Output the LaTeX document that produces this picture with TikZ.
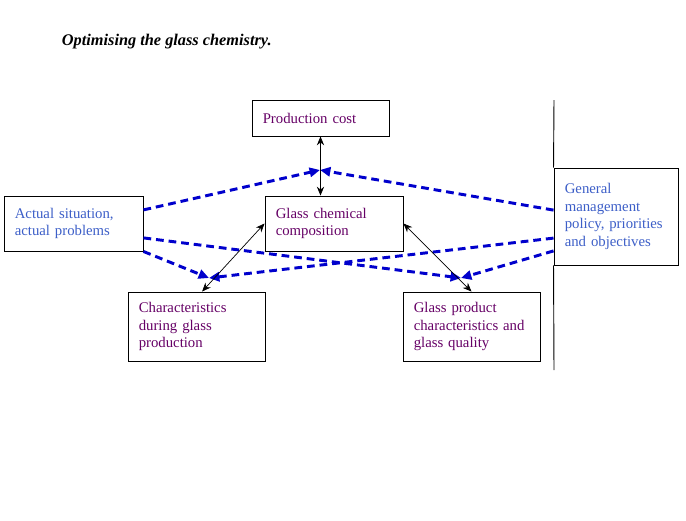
\documentclass[tikz,border=0pt]{standalone}
\usepackage{fontspec}
\setmainfont{Liberation Serif}
\usepackage{tikz}
\usetikzlibrary{arrows.meta,positioning,calc}
\definecolor{plum}{HTML}{660066}
\definecolor{steel}{HTML}{3D5FC8}
\definecolor{dashblue}{HTML}{0000CC}
\tikzset{
  box/.style={draw=black,fill=white,line width=0.65pt,align=left,anchor=center,
    font=\fontsize{10.5}{12.4}\selectfont,inner xsep=0.27cm,text width=#1},
  box/.default=2.9cm,
  inner/.style={box,text=plum},
  outer/.style={box,text=steel},
  link/.style={{Stealth[length=2.2mm,width=1.8mm]}-{Stealth[length=2.2mm,width=1.8mm]},line width=0.5pt,draw=black},
  push/.style={-{Triangle[length=2.6mm,width=2.3mm]},line width=2.1pt,draw=dashblue,dash pattern=on 5.5pt off 3.5pt},
}

\begin{document}
\begin{tikzpicture}[x=0.025cm,y=-0.025cm,
  title/.style={font=\fontsize{11.6}{14}\selectfont\bfseries\itshape,anchor=base west}]
  \useasboundingbox (0,0) rectangle (686,521);
  \node[title] (head) at (57,45) {Optimising the glass chemistry.};
  \node[inner,minimum width=3.425cm,minimum height=0.9cm,text width=2.885cm] (cost) at (320.5,118) {Production cost\\[4pt]};
  \node[inner,minimum width=3.45cm,minimum height=1.375cm,text width=2.91cm] (chem) at (334,223.5) {Glass chemical\\ composition\\[5pt]};
  \node[outer,minimum width=3.475cm,minimum height=1.375cm,text width=2.935cm] (actual) at (73.5,223.5) {Actual situation,\\ actual problems\\[5pt]};
  \node[outer,minimum width=3.1cm,minimum height=2.425cm,text width=2.56cm] (policy) at (616,216.5) {General\\ management\\ policy, priorities\\ and objectives\\[11pt]};
  \node[inner,minimum width=3.425cm,minimum height=1.725cm,text width=2.885cm] (during) at (196.5,326.5) {Characteristics\\ during glass\\ production};
  \node[inner,minimum width=3.425cm,minimum height=1.725cm,text width=2.885cm] (quality) at (471.5,326.5) {Glass product\\ characteristics and\\ glass quality};
  \coordinate (rtop) at (554,100);
  \coordinate (rbot) at (554,370);
  \draw[line width=0.65pt] (rtop) -- (policy.north west);
  \draw[line width=0.65pt] (policy.south west) -- (rbot);
  % meeting points of the dashed arrows
  \coordinate (mtop) at (320,170);
  \coordinate (mleft) at (209,278);
  \coordinate (mright) at (461,278);
  \draw[push] ([yshift=0.34cm]actual.east) -- (mtop);
  \draw[push] ([yshift=0.16cm]policy.west) -- (mtop);
  \draw[push] ([yshift=-0.36cm]actual.east) -- (mright);
  \draw[push] (actual.south east) -- (mleft);
  \draw[push] ([yshift=-0.54cm]policy.west) -- (mleft);
  \draw[push] ([yshift=-0.86cm]policy.west) -- (mright);
  \draw[link] (cost.south) -- (cost.south |- chem.north);
  \draw[link] (chem.west) -- ([xshift=0.14cm]during.north);
  \draw[link] (chem.east) -- (quality.north);
\end{tikzpicture}
\end{document}
